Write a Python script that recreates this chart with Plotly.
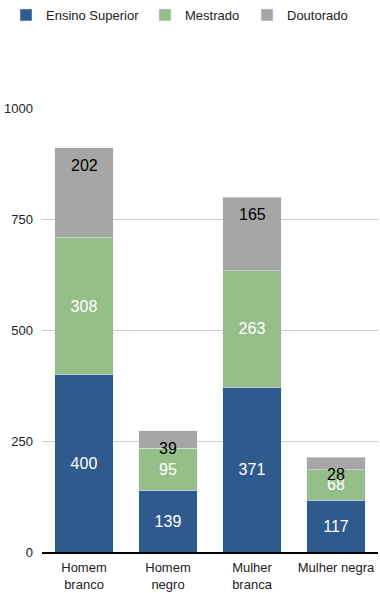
import plotly.graph_objects as go

categories = ["Homem<br>branco", "Homem<br>negro", "Mulher<br>branca", "Mulher negra"]
ensino_superior = [400, 139, 371, 117]
mestrado = [308, 95, 263, 68]
doutorado = [202, 39, 165, 28]
y_ticks = [0, 250, 500, 750, 1000]

fig = go.Figure()
fig.add_trace(go.Bar(name="Ensino Superior", x=categories, y=ensino_superior,
                     marker_color="#2E5A8E", text=ensino_superior,
                     textposition="inside", insidetextanchor="middle",
                     textfont=dict(color="white", size=16), legend="legend"))
fig.add_trace(go.Bar(name="Mestrado", x=categories, y=mestrado,
                     marker_color="#95BE88", text=mestrado,
                     textposition="inside", insidetextanchor="middle",
                     textfont=dict(color="white", size=16), legend="legend2"))
fig.add_trace(go.Bar(name="Doutorado", x=categories, y=doutorado,
                     marker_color="#A6A6A6", textposition="none",
                     legend="legend3"))

# Doutorado labels placed just inside the top of each stack
totals = [a + b + c for a, b, c in zip(ensino_superior, mestrado, doutorado)]
for cat, tot, val in zip(categories, totals, doutorado):
    fig.add_annotation(x=cat, y=tot, text=str(val), showarrow=False,
                       yanchor="top", yshift=-7,
                       font=dict(color="black", size=16))

leg_common = dict(orientation="h", xref="container", yref="container",
                  y=1.0, xanchor="left", yanchor="top",
                  font=dict(size=13, color="#222222"), itemwidth=30,
                  bgcolor="rgba(0,0,0,0)")

fig.update_layout(
    barmode="stack",
    bargap=0.3,
    width=380, height=593,
    margin=dict(l=42, r=2, t=108, b=41),
    paper_bgcolor="white", plot_bgcolor="white",
    font=dict(family="Liberation Sans, Arial, sans-serif", size=13, color="#222222"),
    uniformtext=dict(minsize=16, mode="show"),
    showlegend=True,
    legend=dict(x=6 / 380, **leg_common),
    legend2=dict(x=145 / 380, **leg_common),
    legend3=dict(x=247 / 380, **leg_common),
    yaxis=dict(range=[0, 1000], tickvals=y_ticks, showgrid=True,
               gridcolor="#CCCCCC", gridwidth=1, zeroline=False,
               ticks="", ticklen=0, tickfont=dict(size=13), showline=False,
               ticklabelstandoff=8),
    xaxis=dict(showline=True, linecolor="black", linewidth=1.5, ticks="",
               tickfont=dict(size=13), ticklabelstandoff=3),
)
fig.write_html("out.html", config={"displayModeBar": False},
               post_script="document.body.style.margin='0';document.body.style.padding='0';")
